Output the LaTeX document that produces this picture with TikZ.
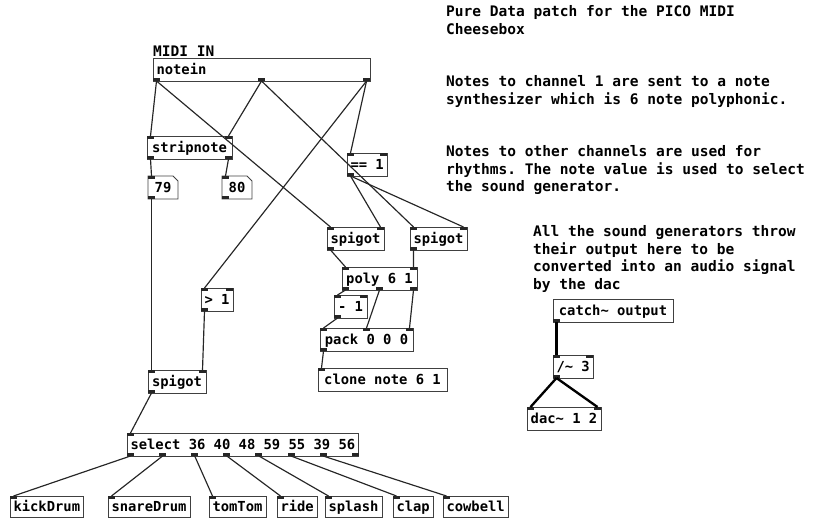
\documentclass[tikz,border=0pt]{standalone}
\usepackage{fontspec}
\setmonofont{DejaVu Sans Mono}
\usetikzlibrary{calc}

\newcommand{\pdfont}{\ttfamily\bfseries\fontsize{11.8}{14}\selectfont}
\newcommand{\notefont}{\ttfamily\bfseries\fontsize{12.4}{15.2}\selectfont}

\tikzset{
  pdobj/.style={draw=black!75, line width=0.7pt, anchor=north west, inner xsep=3pt, inner ysep=0pt,
    outer sep=0pt, minimum height=0.69cm, text height=10pt, text depth=2pt, font=\pdfont},
  pdnum/.style={pdobj, draw=none},
  w/.style={minimum width=#1*0.03cm},
  inport/.style={fill=black!85, inner sep=0pt, outer sep=0pt, minimum width=0.21cm, minimum height=0.08cm, anchor=north west},
  outport/.style={inport, anchor=south west},
  wire/.style={line width=1pt, black!85},
  sigwire/.style={line width=2pt, black},
  note/.style={font=\notefont, align=left, inner sep=0pt, anchor=north west}
}

% inlets and outlets of a box: name, no. of inlets, no. of outlets
\newcommand{\pdports}[3]{%
  \ifnum#2>0
    \pgfmathtruncatemacro{\nlast}{#2-1}
    \foreach \i in {0,...,\nlast}{
      \pgfmathsetmacro{\pfrac}{\i/max(\nlast,1)}
      \node[inport] (#1-i\i) at ($(#1.north west)!\pfrac!([xshift=-0.21cm]#1.north east)$) {};
    }
  \fi
  \ifnum#3>0
    \pgfmathtruncatemacro{\nlast}{#3-1}
    \foreach \i in {0,...,\nlast}{
      \pgfmathsetmacro{\pfrac}{\i/max(\nlast,1)}
      \node[outport] (#1-o\i) at ($(#1.south west)!\pfrac!([xshift=-0.21cm]#1.south east)$) {};
    }
  \fi
}
% frame of a number box, corner cut
\newcommand{\numframe}[1]{%
  \draw[draw=black!75, line width=0.7pt] (#1.north west) -- ([xshift=-0.15cm]#1.north east)
    -- ([yshift=-0.15cm]#1.north east) -- (#1.south east) -- (#1.south west) -- cycle;
}

\begin{document}
\begin{tikzpicture}[x=0.03cm, y=-0.03cm]
  \useasboundingbox (0,0) rectangle (822,521);

  % Comments
  \node[note] (title) at (446,5) {Pure Data patch for the PICO MIDI\\Cheesebox};
  \node[note] (chanone) at (446,75) {Notes to channel 1 are sent to a note\\synthesizer which is 6 note polyphonic.};
  \node[note] (chanother) at (446,145) {Notes to other channels are used for\\rhythms. The note value is used to select\\the sound generator.};
  \node[note] (throw) at (533,225) {All the sound generators throw\\their output here to be\\converted into an audio signal\\by the dac};
  \node[note, anchor=base west] (midiin) at (153,56) {MIDI IN};

  % MIDI input
  \node[pdobj, w=217, align=left, text width=6.3cm] (notein) at (153,58) {notein};
  \node[pdobj, w=85] (stripnote) at (147,136) {stripnote};
  \node[pdnum, w=30] (num79) at (148,176) {79};
  \node[pdnum, w=30] (num80) at (222,176) {80};
  \numframe{num79}
  \numframe{num80}

  % Channel 1: note synth
  \node[pdobj, w=40] (isone) at (347,153) {== 1};
  \node[pdobj, w=56] (spigotnote) at (327,227) {spigot};
  \node[pdobj, w=57] (spigotvel) at (410,227) {spigot};
  \node[pdobj, w=75] (poly) at (342,267) {poly 6 1};
  \node[pdobj, w=33] (minus) at (334,295) {- 1};
  \node[pdobj, w=93] (pack) at (320,328) {pack 0 0 0};
  \node[pdobj, w=129] (clone) at (318,368) {clone note 6 1};

  % Other channels: rhythms
  \node[pdobj, w=31] (isother) at (201,288) {> 1};
  \node[pdobj, w=58] (spigotdrum) at (148,370) {spigot};
  \node[pdobj, w=230] (select) at (127,433) {select 36 40 48 59 55 39 56};
  \node[pdobj, w=72, minimum height=0.63cm] (kickDrum) at (10,496) {kickDrum};
  \node[pdobj, w=77, minimum height=0.63cm] (snareDrum) at (108,496) {snareDrum};
  \node[pdobj, w=53, minimum height=0.63cm] (tomTom) at (209,496) {tomTom};
  \node[pdobj, w=38, minimum height=0.63cm] (ride) at (277,496) {ride};
  \node[pdobj, w=55, minimum height=0.63cm] (splash) at (325,496) {splash};
  \node[pdobj, w=37, minimum height=0.63cm] (clap) at (393,496) {clap};
  \node[pdobj, w=59, minimum height=0.63cm] (cowbell) at (443,496) {cowbell};

  % Audio out
  \node[pdobj, w=120] (catch) at (553,299) {catch\textasciitilde{} output};
  \node[pdobj, w=40] (divide) at (553,355) {/\textasciitilde{} 3};
  \node[pdobj, w=74] (dac) at (527,407) {dac\textasciitilde{} 1 2};

  % Ports
  \pdports{notein}{0}{3}
  \pdports{stripnote}{2}{2}
  \pdports{num79}{1}{1}
  \pdports{num80}{1}{1}
  \pdports{isone}{2}{1}
  \pdports{spigotnote}{2}{1}
  \pdports{spigotvel}{2}{1}
  \pdports{poly}{2}{3}
  \pdports{minus}{2}{1}
  \pdports{pack}{3}{1}
  \pdports{clone}{1}{0}
  \pdports{isother}{2}{1}
  \pdports{spigotdrum}{2}{1}
  \pdports{select}{1}{8}
  \foreach \d in {kickDrum,snareDrum,tomTom,ride,splash,clap,cowbell}
    \pdports{\d}{1}{0};
  \pdports{catch}{0}{1}
  \pdports{divide}{2}{1}
  \pdports{dac}{2}{0}

  % Control wires
  \foreach \a/\b in {notein-o0/stripnote-i0, notein-o0/spigotnote-i0, notein-o1/stripnote-i1,
      notein-o1/spigotvel-i0, notein-o2/isone-i0, notein-o2/isother-i0,
      stripnote-o0/num79-i0, stripnote-o1/num80-i0,
      isone-o0/spigotnote-i1, isone-o0/spigotvel-i1,
      spigotnote-o0/poly-i0, spigotvel-o0/poly-i1,
      poly-o0/minus-i0, poly-o1/pack-i1, poly-o2/pack-i2, minus-o0/pack-i0, pack-o0/clone-i0,
      num79-o0/spigotdrum-i0, isother-o0/spigotdrum-i1, spigotdrum-o0/select-i0}
    \draw[wire] (\a.south) -- (\b.north);
  \foreach \d [count=\k from 0] in {kickDrum,snareDrum,tomTom,ride,splash,clap,cowbell}
    \draw[wire] (select-o\k.south) -- (\d-i0.north);

  % Signal wires
  \draw[sigwire] (catch-o0.south) -- (divide-i0.north);
  \draw[sigwire] (divide-o0.south) -- (dac-i0.north);
  \draw[sigwire] (divide-o0.south) -- (dac-i1.north);
\end{tikzpicture}
\end{document}
